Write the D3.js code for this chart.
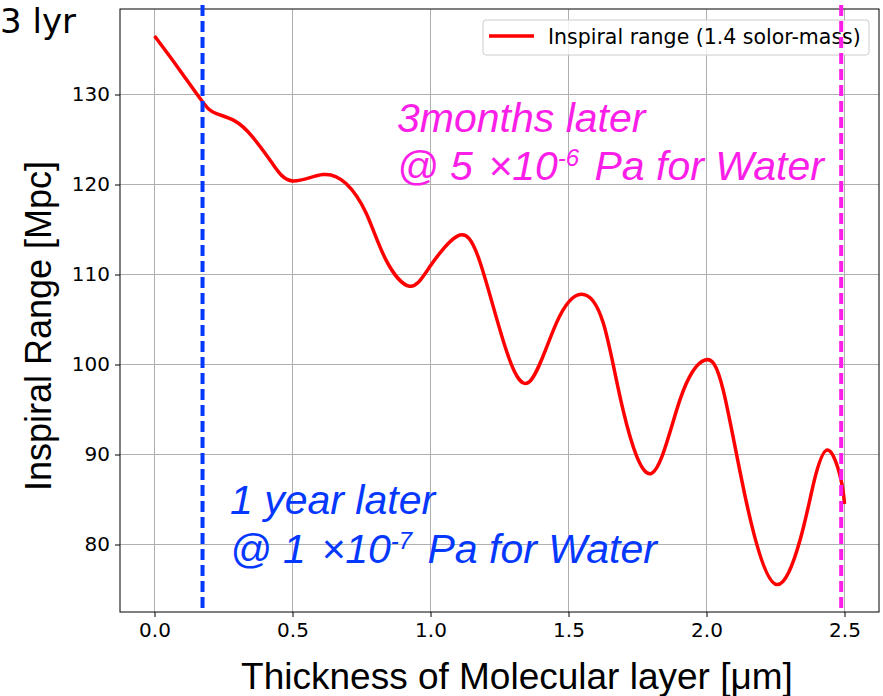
<!DOCTYPE html>
<html>
<head>
<meta charset="utf-8">
<script src="https://cdn.jsdelivr.net/npm/d3@7"></script>
<style>
  body { margin: 0; background: #fff; }
  svg { display: block; }
</style>
</head>
<body>
<div id="stage_id"></div>
<script>
// thickness [um] vs inspiral range [Mpc]
var thickness = [0.00, 0.087, 0.174, 0.222, 0.289, 0.355, 0.428, 0.50, 0.61, 0.694, 0.767, 0.839, 0.924,
  0.996, 1.099, 1.178, 1.27, 1.359, 1.456, 1.547, 1.626, 1.698, 1.801, 1.904, 1.995, 2.061, 2.146,
  2.249, 2.339, 2.388, 2.438, 2.485, 2.50];
var range = [136.5, 132.9, 129.2, 127.9, 127.1, 125.3, 122.3, 120.4, 121.1, 120.1, 116.8, 111.6, 108.7,
  110.8, 114.3, 111.5, 102.0, 98.1, 104.6, 107.8, 104.6, 94.9, 87.9, 96.1, 100.5, 97.1, 84.5,
  75.6, 80.5, 86.8, 90.5, 87.5, 84.5];

var xTicks = [0.0, 0.5, 1.0, 1.5, 2.0, 2.5];
var yTicks = [80, 90, 100, 110, 120, 130];

var markers = [0.174, 2.488]; // 1 year later / 3 months later
var legendLabel = "Inspiral range (1.4 solor-mass)";

var W = 883, H = 696;
var margin = {top: 9, right: 4, bottom: 84, left: 120};

var blue = "#0538ff", magenta = "#fb1ee8";

var svg = d3.select("#stage_id")
  .append("svg")
  .attr("width", W)
  .attr("height", H);

var xScale = d3.scaleLinear()
  .domain([-0.125, 2.625])
  .range([margin.left, W - margin.right]);

var yScale = d3.scaleLinear()
  .domain([72.5, 139.5])
  .range([H - margin.bottom, margin.top]);

var x0 = xScale.range()[0], x1 = xScale.range()[1];
var y0 = yScale.range()[0], y1 = yScale.range()[1];

// grid
svg.append("g")
  .selectAll("line")
  .data(xTicks)
  .enter()
  .append("line")
  .attr("x1", function(d){ return xScale(d); })
  .attr("x2", function(d){ return xScale(d); })
  .attr("y1", y0).attr("y2", y1)
  .attr("stroke", "#b0b0b0").attr("stroke-width", 1);

svg.append("g")
  .selectAll("line")
  .data(yTicks)
  .enter()
  .append("line")
  .attr("y1", function(d){ return yScale(d); })
  .attr("y2", function(d){ return yScale(d); })
  .attr("x1", x0).attr("x2", x1)
  .attr("stroke", "#b0b0b0").attr("stroke-width", 1);

// axes
var xAxis = d3.axisBottom(xScale)
  .tickValues(xTicks)
  .tickFormat(d3.format(".1f"))
  .tickSize(5)
  .tickPadding(6);

var yAxis = d3.axisLeft(yScale)
  .tickValues(yTicks)
  .tickSize(5)
  .tickPadding(5);

var gX = svg.append("g")
  .attr("transform", "translate(0," + y0 + ")")
  .call(xAxis);
gX.select(".domain").remove();
gX.selectAll("text").attr("font-family", "DejaVu Sans").attr("font-size", 20).attr("fill", "#000");
gX.selectAll("line").attr("stroke", "#000");

var gY = svg.append("g")
  .attr("transform", "translate(" + x0 + ",0)")
  .call(yAxis);
gY.select(".domain").remove();
gY.selectAll("text").attr("font-family", "DejaVu Sans").attr("font-size", 20).attr("fill", "#000");
gY.selectAll("line").attr("stroke", "#000");

// curve
var pts = thickness.map(function(t, i){ return {x: t, y: range[i]}; });

var line = d3.line()
  .x(function(d){ return xScale(d.x); })
  .y(function(d){ return yScale(d.y); })
  .curve(d3.curveNatural);

svg.append("path")
  .datum(pts)
  .attr("d", line)
  .attr("fill", "none")
  .attr("stroke", "#ff0000")
  .attr("stroke-width", 3.5)
  .attr("stroke-linejoin", "round");

// frame
svg.append("rect")
  .attr("x", x0).attr("y", y1)
  .attr("width", x1 - x0).attr("height", y0 - y1)
  .attr("fill", "none")
  .attr("stroke", "#000")
  .attr("stroke-width", 1);

// legend
var lg = svg.append("g").attr("transform", "translate(483,20)");
lg.append("rect")
  .attr("width", 386).attr("height", 35)
  .attr("rx", 3)
  .attr("fill", "#fff").attr("fill-opacity", 0.8)
  .attr("stroke", "#cccccc");
lg.append("line")
  .attr("x1", 6).attr("x2", 51)
  .attr("y1", 16).attr("y2", 16)
  .attr("stroke", "#ff0000").attr("stroke-width", 3.5);
lg.append("text")
  .attr("x", 65).attr("y", 23.5)
  .attr("font-family", "DejaVu Sans").attr("font-size", 20.5)
  .text(legendLabel);

// vertical markers
svg.selectAll(".vmark")
  .data(markers)
  .enter()
  .append("line")
  .attr("class", "vmark")
  .attr("x1", function(d){ return xScale(d); })
  .attr("x2", function(d){ return xScale(d); })
  .attr("y1", y1 - 4).attr("y2", y0)
  .attr("stroke", function(d, i){ return i == 0 ? blue : magenta; })
  .attr("stroke-width", 4)
  .attr("stroke-dasharray", "11,5");

// annotations
function note(x, y, color, first, base, sup){
  var t = svg.append("text")
    .attr("font-family", "Liberation Sans, Arial, sans-serif")
    .attr("font-style", "italic")
    .attr("font-size", 41)
    .attr("fill", color);
  t.append("tspan").attr("x", x).attr("y", y).text(first);
  var l2 = svg.append("text")
    .attr("font-family", "Liberation Sans, Arial, sans-serif")
    .attr("font-style", "italic")
    .attr("font-size", 41)
    .attr("fill", color)
    .attr("x", x).attr("y", y + 48.5);
  l2.append("tspan").text(base);
  l2.append("tspan").attr("dx", 4).text("\u00d7");
  l2.append("tspan").text("10");
  l2.append("tspan").attr("font-size", 24).attr("dy", -14).text(sup);
  l2.append("tspan").attr("dy", 14).attr("dx", 4).text(" Pa for Water");
}
note(397, 131.5, magenta, "3months later", "@ 5 ", "-6");
note(230, 514, blue, "1 year later", "@ 1 ", "-7");

// labels
svg.append("text")
  .attr("x", 0).attr("y", 33)
  .attr("font-family", "DejaVu Sans").attr("font-size", 34)
  .text("3 lyr");

svg.append("text")
  .attr("x", 517).attr("y", 689)
  .attr("text-anchor", "middle")
  .attr("font-family", "Liberation Sans, Arial, sans-serif")
  .attr("font-size", 37)
  .text("Thickness of Molecular layer [\u03bcm]");

svg.append("text")
  .attr("transform", "translate(51,326) rotate(-90)")
  .attr("text-anchor", "middle")
  .attr("font-family", "Liberation Sans, Arial, sans-serif")
  .attr("font-size", 36)
  .text("Inspiral Range [Mpc]");
</script>
</body>
</html>
